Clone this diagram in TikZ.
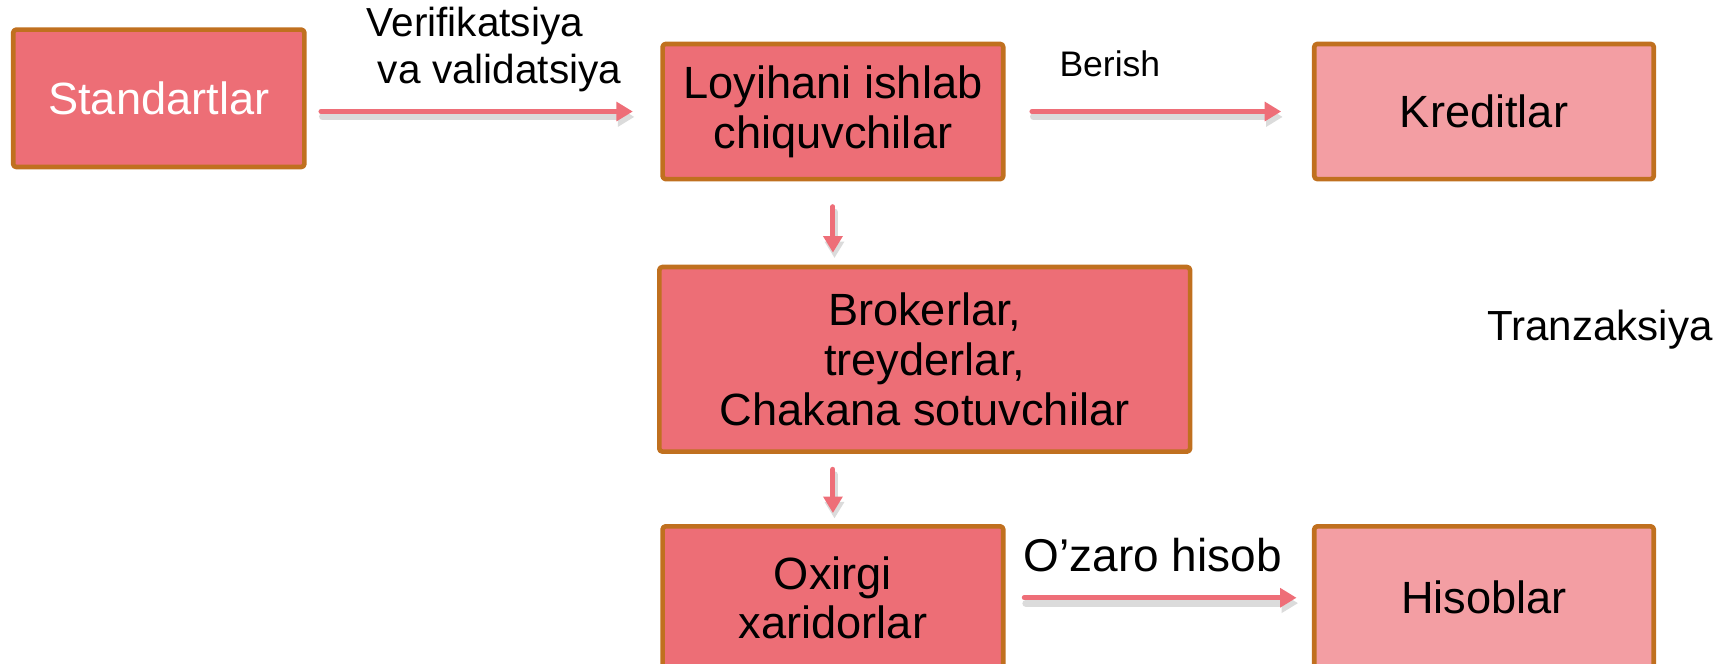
\documentclass[tikz,border=0pt]{standalone}
\usepackage{fontspec}
\setmainfont{Liberation Sans}
\usepackage{xcolor}
\usepackage{tikz}
\usetikzlibrary{arrows.meta,calc}
\definecolor{boxfill}{HTML}{ED6E76}
\definecolor{boxlight}{HTML}{F39EA3}
\definecolor{boxedge}{HTML}{C0701F}
\definecolor{flowline}{HTML}{EE6E78}
\tikzset{
  >={Triangle[length=1.5mm,width=1.7mm]},
  every picture/.style={line cap=round,line join=round},
  unit/.style={draw=boxedge, line width=1.2pt, fill=boxfill, rounded corners=0.8pt,
    align=center, inner sep=0pt, font=\fontsize{11.7}{12.9}\selectfont},
  unitlight/.style={unit, fill=boxlight},
  flow/.style={->, draw=flowline, line width=1.3pt,
    preaction={draw=black!14, line width=1.8pt, transform canvas={shift={(0.4pt,-1.4pt)}}}},
  tag/.style={inner sep=0pt, align=left},
}

\begin{document}
\begin{tikzpicture}
    \useasboundingbox (0,0) rectangle (15.68,6.04);
    % bloklar
    \node[unit, minimum width=2.65cm, minimum height=1.25cm, text=white] (std) at (1.445,5.145) {Standartlar};
    \node[unit, minimum width=3.10cm, minimum height=1.23cm] (dev) at (7.58,5.025) {Loyihani ishlab\\chiquvchilar};
    \node[unitlight, minimum width=3.09cm, minimum height=1.23cm] (cred) at (13.505,5.025) {Kreditlar};
    \node[unit, minimum width=4.83cm, minimum height=1.68cm] (brok) at (8.415,2.77) {Brokerlar,\\treyderlar,\\Chakana sotuvchilar};
    \node[unit, minimum width=3.10cm, minimum height=1.30cm] (buy) at (7.58,0.60) {Oxirgi\\xaridorlar};
    \node[unitlight, minimum width=3.09cm, minimum height=1.30cm] (acc) at (13.505,0.60) {Hisoblar};
    % yozuvlar
    \node[tag, anchor=west, font=\fontsize{10.5}{12}\selectfont] (vv) at (3.33,5.59) {Verifikatsiya\\~va validatsiya};
    \node[tag, font=\fontsize{9.2}{11}\selectfont] (ber) at (10.10,5.46) {Berish};
    \node[tag, font=\fontsize{10.9}{13}\selectfont] (tr) at (14.56,3.04) {Tranzaksiya};
    \node[tag, font=\fontsize{11.9}{14}\selectfont] (oz) at (10.49,0.99) {O’zaro hisob};
    % strelkalar
    \draw[flow, shorten <=0.13cm, shorten >=0.25cm] (std.east |- dev.west) -- (dev.west);
    \draw[flow, shorten <=0.24cm, shorten >=0.28cm] (dev.east) -- (cred.west);
    \draw[flow, shorten <=0.23cm, shorten >=0.11cm] (dev.south) -- (dev.south |- brok.north);
    \draw[flow, shorten <=0.14cm, shorten >=0.10cm] (brok.south -| dev.south) -- (buy.north);
    \draw[flow, shorten <=0.17cm, shorten >=0.14cm] (buy.east) -- (acc.west);
\end{tikzpicture}
\end{document}
